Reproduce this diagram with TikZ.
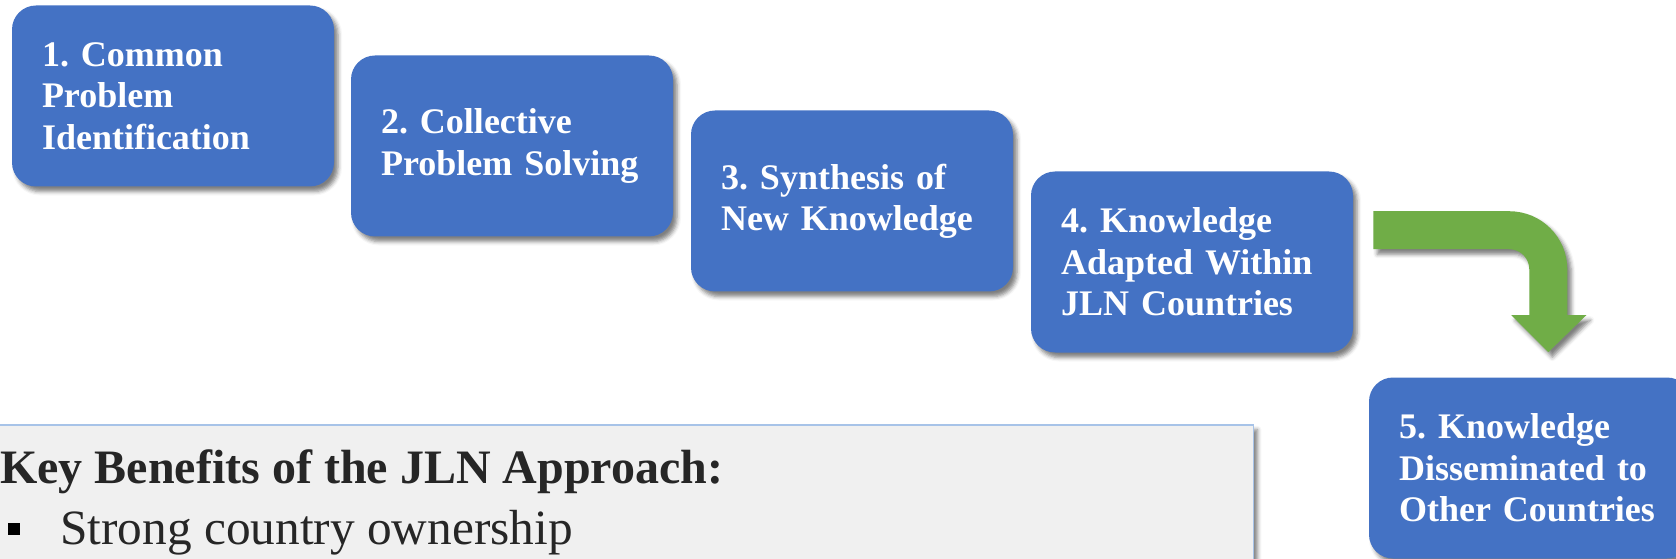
\documentclass[tikz,border=0pt]{standalone}
\usepackage{fontspec}
\setmainfont{Liberation Serif}
\frenchspacing
\usetikzlibrary{shadows.blur}
\definecolor{boxblue}{HTML}{4472C4}
\definecolor{bendgreen}{HTML}{70AD47}
\definecolor{panelgray}{HTML}{F0F0F0}
\definecolor{panelline}{HTML}{A7C3E8}
\definecolor{panelink}{HTML}{262626}
\tikzset{
  softshadow/.style = {
    blur shadow={shadow xshift=3pt, shadow yshift=-3.75pt,
      shadow blur radius=3pt, shadow opacity=50}
  },
  stepbox/.style = {
    fill=boxblue, text=white, rounded corners=18pt,
    minimum width=241.5pt, minimum height=135.75pt,
    inner xsep=22.5pt, text width=196.5pt, align=left,
    font=\fontsize{27}{31}\selectfont\bfseries, softshadow
  },
  panel/.style = {
    fill=panelgray, draw=panelline, line width=1.2pt,
    minimum width=947pt, minimum height=150pt, softshadow
  },
  paneltext/.style = {text=panelink, inner sep=0pt, anchor=base west},
  bulletsq/.style = {fill=black, minimum size=8.5pt, inner sep=0pt}
}

\begin{document}
\begin{tikzpicture}[x=0.75pt, y=-0.75pt]
  \useasboundingbox (0,0) rectangle (1676,559);
  \clip (0,0) rectangle (1676,559);
  \foreach \name/\cx/\cy/\label in {
      s1/173/96/{1. Common\\Problem\\Identification},
      s2/512/146/{2. Collective\\Problem Solving},
      s3/852/201/{3. Synthesis of\\New Knowledge},
      s4/1192/262/{4. Knowledge\\Adapted Within\\JLN Countries},
      s5/1530/468/{5. Knowledge\\Disseminated to\\Other Countries}} {%
    \node[stepbox] (\name) at (\cx,\cy) {\label};
  }
  % bent arrow from step 4 down to step 5
  \coordinate (bend start) at ([shift={(15pt,-30pt)}]s4.north east);
  \fill[bendgreen, softshadow] (bend start) -- ++(136,0)
    arc[start angle=-90, end angle=0, radius=58] -- ++(0,46) -- ++(19,0)
    -- ++(-38,37) -- ++(-37,-37) -- ++(18,0) -- ++(0,-46)
    arc[start angle=0, end angle=-90, radius=20] -- ++(-136,0) -- cycle;
  % benefits panel
  \node[panel, anchor=north west] (panel) at (-10,424) {};
  \node[paneltext, font=\fontsize{36}{40}\selectfont\bfseries] (benefits) at (0,483)
    {Key Benefits of the JLN Approach:};
  \node[bulletsq] (b1) at (14,529) {};
  \node[paneltext, font=\fontsize{37}{40}\selectfont] (item1) at (60,544)
    {Strong country ownership};
\end{tikzpicture}
\end{document}
